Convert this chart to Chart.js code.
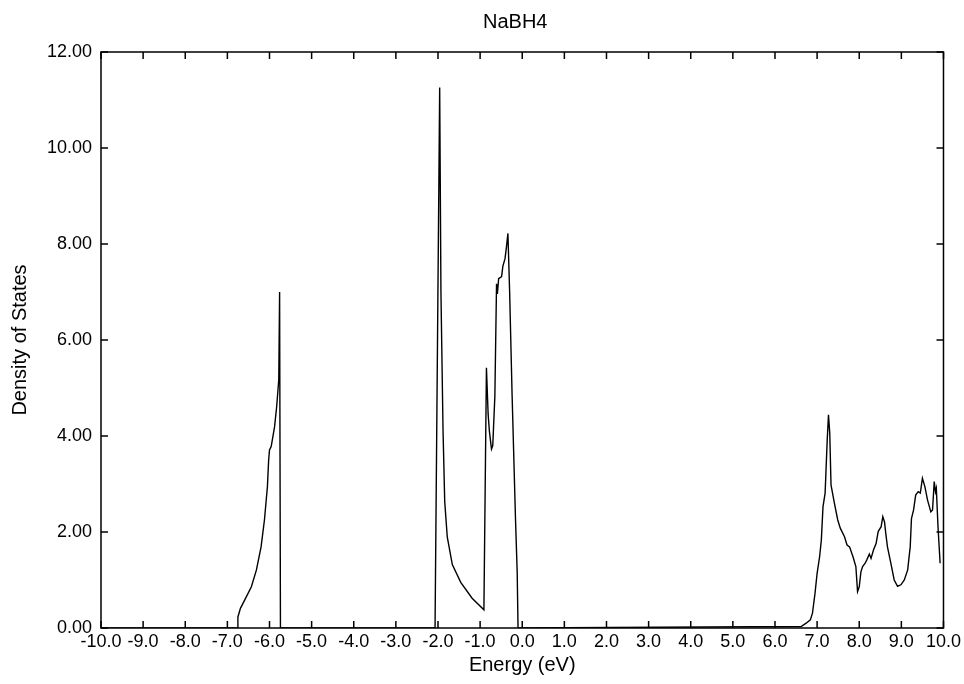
<!DOCTYPE html>
<html>
<head>
<meta charset="utf-8">
<script src="https://cdn.jsdelivr.net/npm/chart.js@4"></script>
<style>
  html, body { margin: 0; padding: 0; background: #fff; }
  #wrap { width: 964px; height: 684px; }
</style>
</head>
<body>
<div id="wrap"><canvas id="dos"></canvas></div>
<script>
const chartTitle = "NaBH4";

// energy (eV) and density of states
const energy = [
  -10.0, -6.77, -6.75, -6.69, -6.59, -6.43, -6.31, -6.20, -6.12, -6.05, -6.02, -6.00, -5.96, -5.88, -5.83, -5.78, -5.76, -5.74,
  -2.07, -1.96, -1.93, -1.88, -1.84, -1.78, -1.66, -1.46, -1.19, -0.91,
  -0.85, -0.81, -0.78, -0.73, -0.70, -0.65, -0.61, -0.59, -0.56, -0.49, -0.46, -0.41, -0.38, -0.34,
  -0.30, -0.24, -0.16, -0.12, -0.10,
  6.62, 6.74, 6.84, 6.89, 6.95, 7.00, 7.06, 7.10, 7.14, 7.19, 7.24, 7.27, 7.30, 7.33, 7.41, 7.49,
  7.55, 7.65, 7.71, 7.77, 7.85, 7.92, 7.96, 8.00, 8.04, 8.08, 8.14, 8.18, 8.24, 8.28, 8.34, 8.40,
  8.45, 8.52, 8.56, 8.60, 8.63, 8.67, 8.75, 8.83, 8.91, 8.99, 9.07, 9.15, 9.21, 9.24, 9.29, 9.34,
  9.40, 9.45, 9.50, 9.56, 9.62, 9.70, 9.74, 9.78, 9.81, 9.83, 9.87, 9.92
];
const dos = [
  0, 0, 0.23, 0.41, 0.58, 0.86, 1.21, 1.69, 2.25, 2.94, 3.5, 3.71, 3.78, 4.19, 4.61, 5.17, 7.0, 0,
  0, 11.26, 7.0, 4.1, 2.63, 1.9, 1.32, 0.95, 0.62, 0.38,
  5.42, 4.46, 4.1, 3.73, 3.8, 4.83, 7.17, 6.96, 7.28, 7.32, 7.54, 7.69, 7.9, 8.22,
  7.03, 4.83, 2.27, 1.17, 0,
  0.03, 0.10, 0.17, 0.31, 0.72, 1.14, 1.49, 1.83, 2.53, 2.81, 3.92, 4.44, 4.06, 2.98, 2.6, 2.25,
  2.08, 1.9, 1.73, 1.69, 1.49, 1.28, 0.76, 0.86, 1.17, 1.28, 1.35, 1.42, 1.54, 1.45, 1.63, 1.76,
  2.01, 2.11, 2.32, 2.21, 1.97, 1.69, 1.35, 1.0, 0.87, 0.9, 1.0, 1.21, 1.69, 2.28, 2.46, 2.77,
  2.84, 2.81, 3.12, 2.94, 2.67, 2.42, 2.46, 3.05, 2.84, 2.91, 2.11, 1.35
];

const points = energy.map((e, i) => ({ x: e, y: dos[i] }));
const fontFamily = "'Liberation Sans', Arial, sans-serif";

// box frame with tick marks pointing inward on all four sides
const frameTicks = {
  id: 'frameTicks',
  afterDraw(chart) {
    const { ctx, chartArea: a, scales } = chart;
    const len = 7;
    ctx.save();
    ctx.strokeStyle = '#000';
    ctx.lineWidth = 1.5;
    ctx.strokeRect(a.left, a.top, a.right - a.left, a.bottom - a.top);
    ctx.beginPath();
    scales.x.ticks.forEach(t => {
      const px = scales.x.getPixelForValue(t.value);
      ctx.moveTo(px, a.bottom); ctx.lineTo(px, a.bottom - len);
      ctx.moveTo(px, a.top); ctx.lineTo(px, a.top + len);
    });
    scales.y.ticks.forEach(t => {
      const py = scales.y.getPixelForValue(t.value);
      ctx.moveTo(a.left, py); ctx.lineTo(a.left + len, py);
      ctx.moveTo(a.right, py); ctx.lineTo(a.right - len, py);
    });
    ctx.stroke();
    // title
    ctx.fillStyle = '#000';
    ctx.font = '20px ' + fontFamily;
    ctx.textAlign = 'center';
    ctx.textBaseline = 'middle';
    ctx.fillText(chartTitle, (a.left + a.right) / 2 - 7, 22);
    ctx.restore();
  }
};

new Chart(document.getElementById('dos'), {
  type: 'line',
  data: {
    datasets: [{
      data: points,
      borderColor: '#000',
      borderWidth: 1.4,
      pointRadius: 0,
      tension: 0,
      fill: false
    }]
  },
  options: {
    responsive: true,
    maintainAspectRatio: false,
    animation: false,
    layout: { padding: { top: 52, right: 18, bottom: 0, left: 0 } },
    plugins: {
      legend: { display: false },
      tooltip: { enabled: false }
    },
    scales: {
      x: {
        type: 'linear',
        min: -10,
        max: 10,
        afterFit(scale) { scale.height = 56; },
        grid: { display: false, drawTicks: false },
        border: { display: false },
        ticks: {
          stepSize: 1,
          padding: 3,
          color: '#000',
          maxRotation: 0,
          autoSkip: false,
          font: { family: fontFamily, size: 18 },
          callback: v => v.toFixed(1)
        },
        title: {
          display: true,
          text: 'Energy (eV)',
          color: '#000',
          font: { family: fontFamily, size: 20 },
          padding: { top: 2, bottom: 7 }
        }
      },
      y: {
        min: 0,
        max: 12,
        afterFit(scale) { scale.width = 101; },
        grid: { display: false, drawTicks: false },
        border: { display: false },
        ticks: {
          stepSize: 2,
          padding: 9,
          color: '#000',
          font: { family: fontFamily, size: 18 },
          callback: v => v.toFixed(2)
        },
        title: {
          display: true,
          text: 'Density of States',
          color: '#000',
          font: { family: fontFamily, size: 20 },
          padding: { top: 8, bottom: 2 }
        }
      }
    }
  },
  plugins: [frameTicks]
});
</script>
</body>
</html>
